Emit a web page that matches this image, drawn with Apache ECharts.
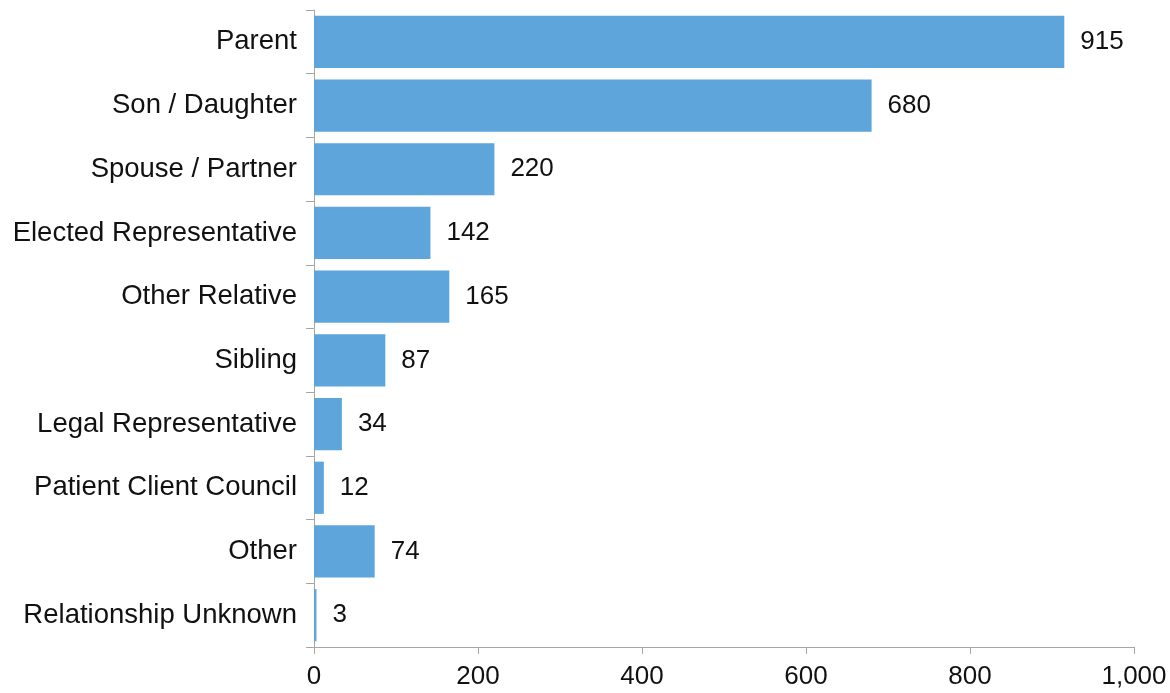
<!DOCTYPE html>
<html>
<head>
<meta charset="utf-8">
<script src="https://cdn.jsdelivr.net/npm/echarts@6/dist/echarts.min.js"></script>
<style>
html,body{margin:0;padding:0;background:#fff;}
#chart{width:1170px;height:693px;}
</style>
</head>
<body>
<div id="chart"></div>
<script>
const categories = ["Parent","Son / Daughter","Spouse / Partner","Elected Representative","Other Relative","Sibling","Legal Representative","Patient Client Council","Other","Relationship Unknown"];
const values = [915,680,220,142,165,87,34,12,74,3];
const xTicks = [0,200,400,600,800,1000];

const chart = echarts.init(document.getElementById('chart'));
const font = "'Liberation Sans', Arial, sans-serif";
chart.setOption({
  animation: false,
  grid: {left: 314, right: 36, top: 10, bottom: 46, containLabel: false},
  xAxis: {
    type: 'value', min: xTicks[0], max: xTicks[xTicks.length-1], interval: 200,
    axisLine: {show: true, lineStyle: {color: '#a6a6a6', width: 1}},
    axisTick: {show: true, length: 7, lineStyle: {color: '#a6a6a6'}},
    splitLine: {show: false},
    axisLabel: {color: '#111', fontSize: 26, fontFamily: font, margin: 17,
      formatter: v => v.toLocaleString('en-US')}
  },
  yAxis: {
    type: 'category', data: categories, inverse: true,
    axisLine: {show: true, lineStyle: {color: '#a6a6a6', width: 1}},
    axisTick: {show: true, length: 8, lineStyle: {color: '#a6a6a6'}},
    axisLabel: {color: '#111', fontSize: 27.5, fontFamily: font, margin: 17}
  },
  series: [{
    type: 'bar', data: values, barCategoryGap: '18%',
    itemStyle: {color: '#5da5da'},
    label: {show: true, position: 'right', distance: 16, color: '#111', fontSize: 26, fontFamily: font}
  }]
});
</script>
</body>
</html>
